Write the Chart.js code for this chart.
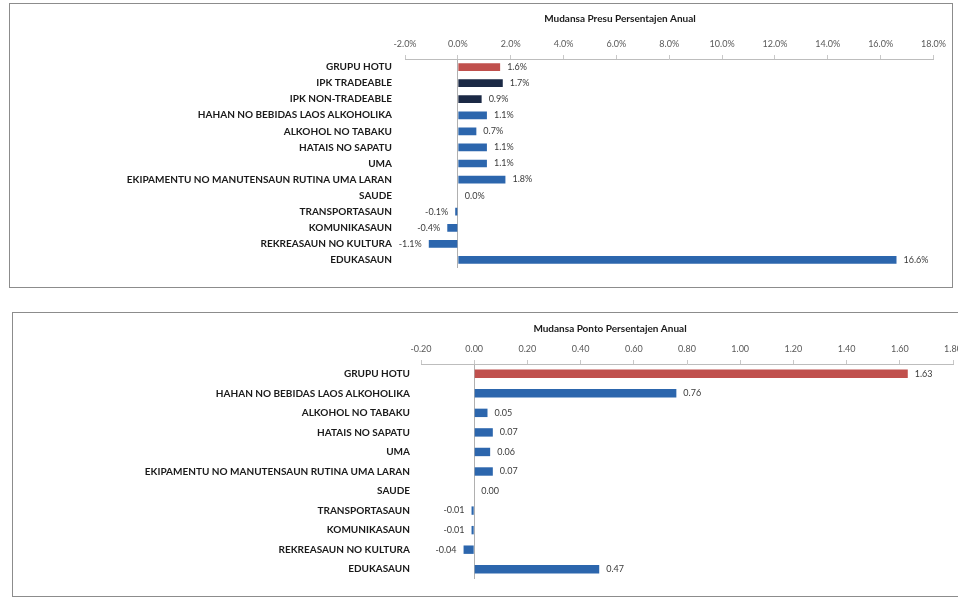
<!DOCTYPE html>
<html lang="en">
  <head>
    <meta charset="UTF-8" />
    <title>Mudansa Presu / Ponto Persentajen Anual</title>
    <script src="https://cdn.jsdelivr.net/npm/chart.js@4.4.1/dist/chart.umd.min.js"></script>
    <style>
      body { margin: 0; background: #fff; width: 958px; height: 598px; overflow: hidden; position: relative; }
      .box { position: absolute; box-sizing: border-box; border: 1px solid #8c8c8c; background: #fff; }
      .box canvas { display: block; }
    </style>
  </head>

  <body>
    <div class="box" style="left: 9px; top: 3px; width: 944px; height: 285px">
      <canvas id="chartTop" width="942" height="283"></canvas>
    </div>
    <div class="box" style="left: 12px; top: 312px; width: 960px; height: 285px">
      <canvas id="chartBottom" width="958" height="283"></canvas>
    </div>

    <script>
      const topTitle = 'Mudansa Presu Persentajen Anual'
      const topLabels = [
        'GRUPU HOTU',
        'IPK TRADEABLE',
        'IPK NON-TRADEABLE',
        'HAHAN NO BEBIDAS LAOS ALKOHOLIKA',
        'ALKOHOL NO TABAKU',
        'HATAIS NO SAPATU',
        'UMA',
        'EKIPAMENTU NO MANUTENSAUN RUTINA UMA LARAN',
        'SAUDE',
        'TRANSPORTASAUN',
        'KOMUNIKASAUN',
        'REKREASAUN NO KULTURA',
        'EDUKASAUN',
      ]
      const topValues = [1.6, 1.7, 0.9, 1.1, 0.7, 1.1, 1.1, 1.8, 0.0, -0.1, -0.4, -1.1, 16.6]

      const bottomTitle = 'Mudansa Ponto Persentajen Anual'
      const bottomLabels = [
        'GRUPU HOTU',
        'HAHAN NO BEBIDAS LAOS ALKOHOLIKA',
        'ALKOHOL NO TABAKU',
        'HATAIS NO SAPATU',
        'UMA',
        'EKIPAMENTU NO MANUTENSAUN RUTINA UMA LARAN',
        'SAUDE',
        'TRANSPORTASAUN',
        'KOMUNIKASAUN',
        'REKREASAUN NO KULTURA',
        'EDUKASAUN',
      ]
      const bottomValues = [1.63, 0.76, 0.05, 0.07, 0.06, 0.07, 0.0, -0.01, -0.01, -0.04, 0.47]

      const FONT = 'Lato, "Open Sans", sans-serif'

      const barColor = (label) => {
        if (label == 'GRUPU HOTU') return '#c0504d'
        if (label.startsWith('IPK')) return '#1b2945'
        return '#2c66ad'
      }

      // value labels next to the bar ends + title at a fixed spot
      const extras = {
        id: 'extras',
        afterDatasetsDraw(chart, args, opts) {
          const ctx = chart.ctx
          ctx.save()
          ctx.font = '9px ' + FONT
          ctx.fillStyle = '#3a3a3a'
          ctx.textBaseline = 'middle'
          const meta = chart.getDatasetMeta(0)
          const vals = chart.data.datasets[0].data
          meta.data.forEach((bar, i) => {
            const v = vals[i]
            const txt = opts.fmt(v)
            if (v < 0) {
              ctx.textAlign = 'right'
              ctx.fillText(txt, bar.x - 7, bar.y)
            } else {
              ctx.textAlign = 'left'
              ctx.fillText(txt, Math.max(bar.x, bar.base) + 7, bar.y)
            }
          })
          ctx.font = 'bold 10px ' + FONT
          ctx.fillStyle = '#1a1a1a'
          ctx.textAlign = 'center'
          ctx.fillText(opts.title, opts.titleX, opts.titleY)
          ctx.restore()
        },
      }

      const makeChart = (id, labels, values, cfg) => {
        new Chart(document.getElementById(id), {
          type: 'bar',
          data: {
            labels: labels,
            datasets: [
              {
                data: values,
                backgroundColor: labels.map(barColor),
                barPercentage: cfg.barPct,
                categoryPercentage: 1,
              },
            ],
          },
          options: {
            indexAxis: 'y',
            responsive: false,
            animation: false,
            layout: { padding: { left: 0, right: cfg.padRight, top: 0, bottom: cfg.padBottom } },
            scales: {
              x: {
                position: 'top',
                min: cfg.min,
                max: cfg.max,
                afterFit: (s) => { s.height = cfg.axisHeight },
                afterBuildTicks: (s) => {
                  s.ticks = cfg.ticks.map((t) => ({ value: t }))
                },
                ticks: {
                  font: { family: FONT, size: 9 },
                  color: '#595959',
                  padding: 6,
                  maxRotation: 0,
                  autoSkip: false,
                  callback: (v) => cfg.tickFmt(v),
                },
                grid: {
                  color: (c) => (c.tick && Math.abs(c.tick.value) < 1e-9 ? '#b0b0b0' : 'transparent'),
                  tickColor: '#c8c8c8',
                  tickLength: 4,
                  lineWidth: 1,
                },
                border: { display: true, color: '#bdbdbd' },
              },
              y: {
                afterFit: (s) => { s.width = cfg.axisWidth },
                ticks: {
                  font: { family: FONT, size: 10, weight: 'bold' },
                  color: '#1a1a1a',
                  padding: cfg.labelPad,
                  autoSkip: false,
                },
                grid: { display: false, drawTicks: false },
                border: { display: false },
              },
            },
            plugins: {
              legend: { display: false },
              tooltip: { enabled: false },
              extras: {
                fmt: cfg.valueFmt,
                title: cfg.title,
                titleX: cfg.titleX,
                titleY: cfg.titleY,
              },
            },
          },
          plugins: [extras],
        })
      }

      makeChart('chartTop', topLabels, topValues, {
        min: -2,
        max: 18,
        ticks: [-2, 0, 2, 4, 6, 8, 10, 12, 14, 16, 18],
        tickFmt: (v) => v.toFixed(1) + '%',
        valueFmt: (v) => v.toFixed(1) + '%',
        axisHeight: 55,
        axisWidth: 395,
        labelPad: 13,
        padRight: 18,
        padBottom: 11,
        barPct: 0.48,
        title: topTitle,
        titleX: 610,
        titleY: 15,
      })

      makeChart('chartBottom', bottomLabels, bottomValues, {
        min: -0.2,
        max: 1.8,
        ticks: [-0.2, 0, 0.2, 0.4, 0.6, 0.8, 1.0, 1.2, 1.4, 1.6, 1.8],
        tickFmt: (v) => v.toFixed(2),
        valueFmt: (v) => v.toFixed(2),
        axisHeight: 51,
        axisWidth: 408,
        labelPad: 11,
        padRight: 18,
        padBottom: 9,
        barPct: 0.43,
        title: bottomTitle,
        titleX: 597,
        titleY: 16,
      })
    </script>
  </body>
</html>
